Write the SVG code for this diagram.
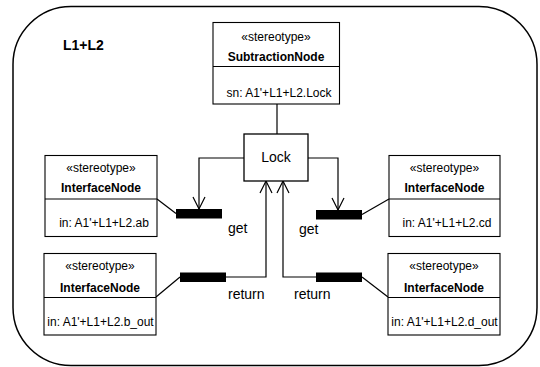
<svg xmlns="http://www.w3.org/2000/svg" width="540" height="367" viewBox="0 0 540 367">
<style>
text{font-family:"Liberation Sans",Arial,sans-serif;fill:#000}
.s{font-size:12px;text-anchor:middle}
.b{font-size:12px;font-weight:bold;text-anchor:middle}
.l{font-size:14px}
.box{fill:#fff;stroke:#000;stroke-width:1.1}
.c{fill:none;stroke:#000;stroke-width:1.2}
.bar{fill:#000}
</style>
<defs>
<marker id="arr" viewBox="-13 -7 14 14" refX="0" refY="0" markerWidth="14" markerHeight="14" markerUnits="userSpaceOnUse" orient="auto" overflow="visible">
<path d="M -12 -6 L 0 0 L -12 6" fill="none" stroke="#000" stroke-width="1.2"/>
</marker>
</defs>
<rect x="13" y="6.5" width="524" height="359" rx="58" ry="58" fill="#fff" stroke="#000" stroke-width="1.5"/>
<text x="63" y="50" class="l" style="font-weight:bold">L1+L2</text>

<g id="connectors">
<line class="c" x1="277" y1="104" x2="277" y2="134"/>
<polyline class="c" points="244,158 199,158 199,209" marker-end="url(#arr)"/>
<polyline class="c" points="308,158 338,158 338,210" marker-end="url(#arr)"/>
<polyline class="c" points="226,277 266,277 266,181" marker-end="url(#arr)"/>
<polyline class="c" points="316,277 283,277 283,181" marker-end="url(#arr)"/>
<line class="c" x1="157" y1="199" x2="176" y2="213.5"/>
<line class="c" x1="156" y1="297" x2="180" y2="277"/>
<line class="c" x1="389" y1="199" x2="362" y2="214.5"/>
<line class="c" x1="388" y1="297" x2="362" y2="277"/>
<rect class="bar" x="176" y="209" width="46" height="9.5"/>
<rect class="bar" x="316" y="210" width="46" height="9.5"/>
<rect class="bar" x="180" y="272.5" width="46" height="9.5"/>
<rect class="bar" x="316" y="272.5" width="46" height="9.5"/>
<text x="228" y="233" class="l">get</text>
<text x="299" y="234" class="l">get</text>
<text x="228" y="299" class="l">return</text>
<text x="294" y="299" class="l">return</text>
</g>

<g id="subtraction">
<rect class="box" x="213" y="22.5" width="126.5" height="81.5"/>
<line class="c" x1="213" y1="66.5" x2="339.5" y2="66.5" style="stroke-width:1.1"/>
<text x="276" y="41" class="s">«stereotype»</text>
<text x="276" y="61" class="b">SubtractionNode</text>
<text x="279" y="97" class="s">sn: A1'+L1+L2.Lock</text>
</g>

<g id="lock">
<rect class="box" x="244" y="134" width="64" height="47" style="stroke-width:1.3"/>
<text x="276" y="162" class="l" style="text-anchor:middle">Lock</text>
</g>

<g id="iface-ab">
<rect class="box" x="45" y="155.5" width="112" height="81"/>
<line class="c" x1="45" y1="199" x2="157" y2="199" style="stroke-width:1.1"/>
<text x="101" y="172" class="s">«stereotype»</text>
<text x="101" y="192" class="b">InterfaceNode</text>
<text x="104" y="227" class="s">in: A1'+L1+L2.ab</text>
</g>

<g id="iface-bout">
<rect class="box" x="44" y="253.5" width="112" height="81.5"/>
<line class="c" x1="44" y1="297.5" x2="156" y2="297.5" style="stroke-width:1.1"/>
<text x="100" y="270" class="s">«stereotype»</text>
<text x="100" y="292" class="b">InterfaceNode</text>
<text x="100.5" y="326" class="s">in: A1'+L1+L2.b_out</text>
</g>

<g id="iface-cd">
<rect class="box" x="389" y="155.5" width="111" height="81"/>
<line class="c" x1="389" y1="199" x2="500" y2="199" style="stroke-width:1.1"/>
<text x="444.5" y="172" class="s">«stereotype»</text>
<text x="444.5" y="192" class="b">InterfaceNode</text>
<text x="447" y="227" class="s">in: A1'+L1+L2.cd</text>
</g>

<g id="iface-dout">
<rect class="box" x="388" y="253.5" width="112" height="81.5"/>
<line class="c" x1="388" y1="297.5" x2="500" y2="297.5" style="stroke-width:1.1"/>
<text x="444" y="270" class="s">«stereotype»</text>
<text x="444" y="292" class="b">InterfaceNode</text>
<text x="444.5" y="326" class="s">in: A1'+L1+L2.d_out</text>
</g>
</svg>
